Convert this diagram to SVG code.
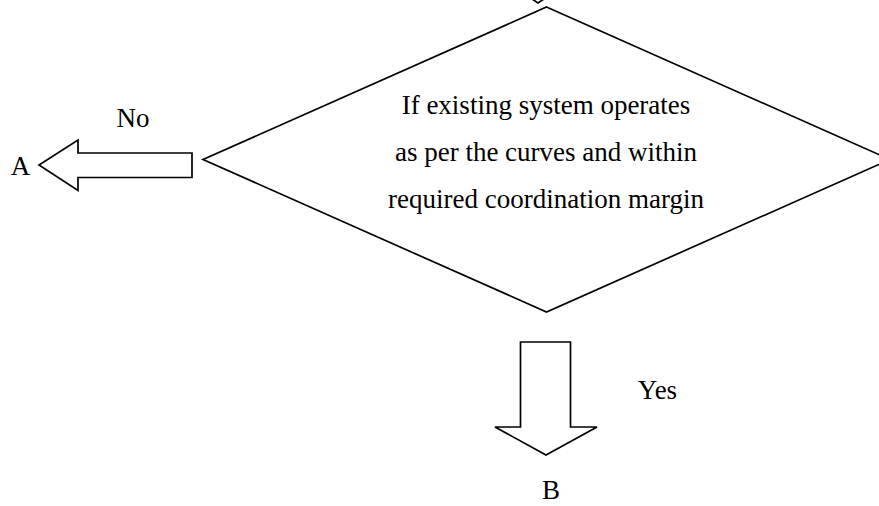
<svg xmlns="http://www.w3.org/2000/svg" width="879" height="506" viewBox="0 0 879 506">
  <style>
    .shape { fill: #ffffff; stroke: #000000; stroke-width: 1.7; stroke-linejoin: miter; }
    .label { font-family: "Liberation Serif", "Times New Roman", serif; font-size: 27px; fill: #000000; text-anchor: middle; }
  </style>
  <rect x="0" y="0" width="879" height="506" fill="#ffffff"/>

  <!-- block arrows -->
  <g id="connectors">
    <!-- tip of the incoming arrow from above -->
    <polyline class="shape" fill="none" points="532,-1 538,3 544,-1"/>
    <!-- "No" branch to A -->
    <polygon id="arrow-no" class="shape" points="192,153 78,153 78,140 39,165 78,190.5 78,177.5 192,177.5"/>
    <!-- "Yes" branch to B -->
    <polygon id="arrow-yes" class="shape" points="520.5,342 570.5,342 570.5,427 597,427 546,455 495,427 520.5,427"/>
  </g>

  <!-- decision node -->
  <g id="decision">
    <polygon class="shape" points="546.5,7 890,159.5 546.5,312 203,159.5"/>
    <text class="label" x="546" y="114">If existing system operates</text>
    <text class="label" x="546" y="161">as per the curves and within</text>
    <text class="label" x="546" y="208">required coordination margin</text>
  </g>

  <g id="label-no">
    <text class="label" x="133" y="127">No</text>
  </g>
  <g id="node-a">
    <text class="label" x="20.5" y="175">A</text>
  </g>
  <g id="label-yes">
    <text class="label" x="657.5" y="399">Yes</text>
  </g>
  <g id="node-b">
    <text class="label" x="551" y="499">B</text>
  </g>
</svg>
